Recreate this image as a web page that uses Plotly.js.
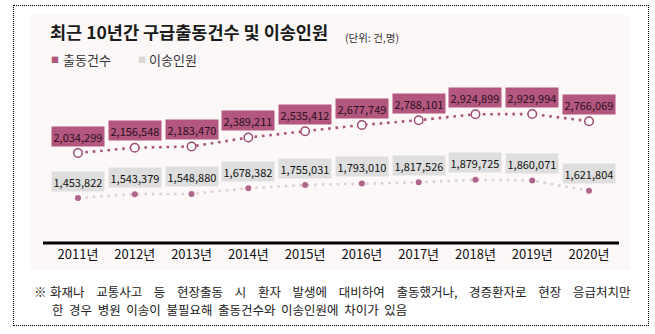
<!DOCTYPE html>
<html>
<head>
<meta charset="utf-8">
<script src="https://cdn.plot.ly/plotly-3.0.1.min.js"></script>
<style>
  html, body { margin: 0; padding: 0; background: #ffffff; }
  #wrap { position: relative; width: 655px; height: 334px; overflow: hidden; }
  #border { position: absolute; left: 13px; top: 5px; width: 634px; height: 319px; border: 1px dotted #000; }
  #panel { position: absolute; left: 31px; top: 15px; width: 599px; height: 255px; background: #fdf8f8; }
  #chart { position: absolute; left: 0; top: 0; width: 655px; height: 334px; }
</style>
</head>
<body>
<div id="wrap">
  <div id="border"></div>
  <div id="panel"></div>
  <div id="chart"></div>
</div>
<script>
// ---- data ----
const years = ['2011년','2012년','2013년','2014년','2015년','2016년','2017년','2018년','2019년','2020년'];
const dispatchCount = [2034299, 2156548, 2183470, 2389211, 2535412, 2677749, 2788101, 2924899, 2929994, 2766069];
const transportCount = [1453822, 1543379, 1548880, 1678382, 1755031, 1793010, 1817526, 1879725, 1860071, 1621804];
const seriesNames = ['출동건수', '이송인원'];
const titleText = '최근 10년간 구급출동건수 및 이송인원';
const unitText = '(단위: 건,명)';
const noteMark = '※';
const noteLine1 = '화재나 교통사고 등 현장출동 시 환자 발생에 대비하여 출동했거나, 경증환자로 현장 응급처치만';
const noteLine2 = '한 경우 병원 이송이 불필요해 출동건수와 이송인원에 차이가 있음';

// ---- layout geometry ----
const W = 655, H = 334;
const M = { l: 43, r: 36, t: 80, b: 95 };
const plotW = W - M.l - M.r, plotH = H - M.t - M.b;
const px = (x) => (x - M.l) / plotW;
const py = (y) => (H - M.b - y) / plotH;

const KR = '"Noto Sans CJK KR", "Noto Sans", sans-serif';
const purple = '#b3577f';
const purpleLine = '#a9557e';
const grayBox = '#dedede';

const fmt = (v) => v.toLocaleString('en-US');

const traces = [
  {
    x: years, y: dispatchCount, name: seriesNames[0], type: 'scatter', mode: 'lines+markers',
    yaxis: 'y', showlegend: false, hoverinfo: 'skip',
    line: { color: purpleLine, width: 2.6, dash: '2.6px,4.8px' },
    marker: { symbol: 'circle', size: 8.5, color: '#ffffff', line: { color: '#9d4c74', width: 1.5 } }
  },
  {
    x: years, y: transportCount, name: seriesNames[1], type: 'scatter', mode: 'lines+markers',
    yaxis: 'y2', showlegend: false, hoverinfo: 'skip',
    line: { color: '#e2ccd5', width: 2.6, dash: '2.6px,4.8px' },
    marker: { symbol: 'circle', size: 6, color: '#b0668a' }
  }
];

const annotations = [];
years.forEach((yr, i) => {
  annotations.push({
    x: yr, y: dispatchCount[i], xref: 'x', yref: 'y',
    text: fmt(dispatchCount[i]), showarrow: true, ax: 0, ay: -17,
    arrowhead: 2, arrowsize: 0.9, arrowwidth: 2, arrowcolor: purple, standoff: 6,
    bgcolor: purple, borderpad: 1.5,
    font: { family: KR, size: 11, color: '#2a0f1e' }
  });
  annotations.push({
    x: yr, y: transportCount[i], xref: 'x', yref: 'y2',
    text: fmt(transportCount[i]), showarrow: true, ax: 0, ay: -17,
    arrowhead: 2, arrowsize: 0.9, arrowwidth: 2, arrowcolor: grayBox, standoff: 6,
    bgcolor: grayBox, borderpad: 1.5,
    font: { family: KR, size: 11, color: '#111111' }
  });
});

// unit text
annotations.push({
  xref: 'paper', yref: 'paper', x: px(343), y: py(37), xanchor: 'left', yanchor: 'middle',
  text: unitText, showarrow: false, font: { family: KR, size: 10.5, color: '#333333' }
});
// legend
annotations.push({
  xref: 'paper', yref: 'paper', x: px(55), y: py(59), xanchor: 'center', yanchor: 'middle',
  text: '■', showarrow: false, font: { family: KR, size: 8, color: purple }
});
annotations.push({
  xref: 'paper', yref: 'paper', x: px(61), y: py(59), xanchor: 'left', yanchor: 'middle',
  text: seriesNames[0], showarrow: false, font: { family: KR, size: 13, color: '#333333' }
});
annotations.push({
  xref: 'paper', yref: 'paper', x: px(142), y: py(59), xanchor: 'center', yanchor: 'middle',
  text: '■', showarrow: false, font: { family: KR, size: 8, color: '#d9d9d9' }
});
annotations.push({
  xref: 'paper', yref: 'paper', x: px(147), y: py(59), xanchor: 'left', yanchor: 'middle',
  text: seriesNames[1], showarrow: false, font: { family: KR, size: 13, color: '#333333' }
});
// footnote
const gap1 = '\u00a0\u00a0\u00a0\u2009\u200a';
const gap2 = '\u00a0\u00a0';
annotations.push({
  xref: 'paper', yref: 'paper', x: px(32), y: py(291), xanchor: 'left', yanchor: 'middle',
  text: noteMark, showarrow: false, font: { family: KR, size: 12.5, color: '#222222' }
});
annotations.push({
  xref: 'paper', yref: 'paper', x: px(48), y: py(291), xanchor: 'left', yanchor: 'middle', align: 'left',
  text: noteLine1.split(' ').join(gap1), showarrow: false, font: { family: KR, size: 12.5, color: '#222222' }
});
annotations.push({
  xref: 'paper', yref: 'paper', x: px(50), y: py(309), xanchor: 'left', yanchor: 'middle', align: 'left',
  text: noteLine2.split(' ').join(gap2), showarrow: false, font: { family: KR, size: 12.5, color: '#222222' }
});

const layout = {
  width: W, height: H,
  margin: M,
  paper_bgcolor: 'rgba(0,0,0,0)',
  plot_bgcolor: 'rgba(0,0,0,0)',
  title: {
    text: titleText, xref: 'container', yref: 'container',
    x: 50 / W, xanchor: 'left', y: 1 - 33 / H, yanchor: 'middle',
    font: { family: KR, size: 17.5, color: '#1a1a1a', weight: 700 }
  },
  xaxis: {
    type: 'category', range: [-0.616, 9.528], fixedrange: true,
    showgrid: false, zeroline: false, showline: false,
    ticks: '', ticklabelstandoff: 6, tickfont: { family: KR, size: 13, color: '#111111' }
  },
  yaxis: {
    range: [57288, 3712460], visible: false, showgrid: false, zeroline: false, fixedrange: true
  },
  yaxis2: {
    range: [500334, 4198008], overlaying: 'y', visible: false, showgrid: false, zeroline: false, fixedrange: true
  },
  shapes: [
    { type: 'line', xref: 'paper', yref: 'paper', x0: 0, x1: 1, y0: py(243), y1: py(243),
      line: { color: '#000000', width: 3 } }
  ],
  annotations: annotations,
  showlegend: false
};

Plotly.newPlot('chart', traces, layout, { staticPlot: true, displayModeBar: false });
</script>
</body>
</html>
